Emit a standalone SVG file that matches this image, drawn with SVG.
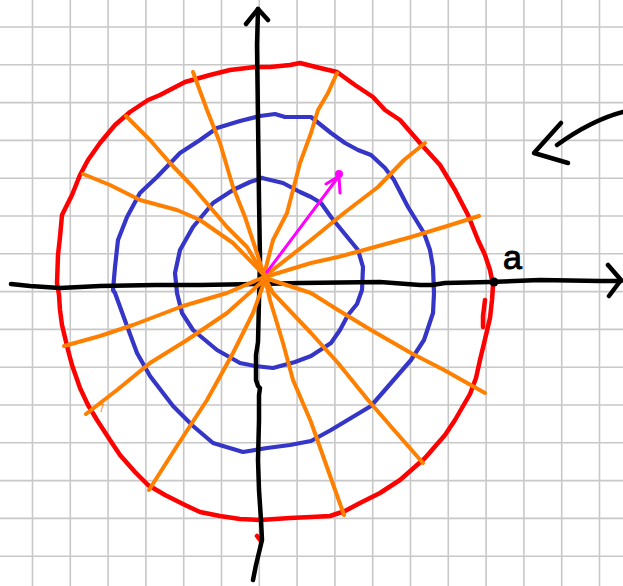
<svg xmlns="http://www.w3.org/2000/svg" width="623" height="586" viewBox="0 0 623 586">
<style>
.grid{stroke:#c8c8c8;stroke-width:1.6;fill:none}
.ink{fill:none;stroke-linecap:round;stroke-linejoin:round}
.axis{stroke:#000;stroke-width:4.5}
.red{stroke:#ff0000;stroke-width:4.5}
.blue{stroke:#3535c8;stroke-width:4.2}
.ray{stroke:#ff8000;stroke-width:4}
.mag{stroke:#ff00ff;stroke-width:3}
</style>
<rect width="623" height="586" fill="#fff"/>
<g id="grid">
<path class="grid" d="M32.5 0V586M70.3 0V586M108.1 0V586M145.9 0V586M183.7 0V586M221.5 0V586M259.3 0V586M297.1 0V586M334.9 0V586M372.7 0V586M410.5 0V586M448.3 0V586M486.1 0V586M523.9 0V586M561.7 0V586M599.5 0V586M0 27H623M0 64.8H623M0 102.6H623M0 140.4H623M0 178.2H623M0 216H623M0 253.8H623M0 291.6H623M0 329.4H623M0 367.2H623M0 405H623M0 442.8H623M0 480.6H623M0 518.4H623M0 556.2H623"/>
</g>
<g id="circle-red">
<polyline class="ink red" points="270,67 290,65 300,63 320,68 337,72 355,85 373,97 385,110 400,120 420,143 440,165 455,190 468,215 478,240 485,255 490,270 493,285 492,300 490,318 486,335 480,360 476,378 470,394 455,420 445,435 425,458 400,480 380,493 360,503 345,511 330,516 311,517 290,518 260,520 240,519 220,516 200,512 185,505 165,495 148,485 135,472 120,455 110,440 97,420 88,405 80,388 72,365 68,350 62,325 60,310 59,295 57,283 58,255 60,237 62,215 72,195 80,175 88,160 100,143 115,125 130,112 148,100 160,95 185,82 210,75 230,70 255,67 270,67"/>
<path class="ink red" d="M485 300L483 316L483 327M257 536L260 540" stroke-width="3"/>
</g>
<g id="circle-blue-outer">
<polyline class="ink blue" points="260,116 275,114 285,117 311,117 331,133 345,143 358,150 371,155 385,168 394,180 408,207 416,220 424,233 430,250 433,267 434,293 433,313 424,340 411,360 391,383 371,406 351,418 331,430 311,441 290,445 267,448 243,452 213,443 193,426 173,406 150,376 137,353 127,326 115,293 113,290 115,267 118,240 127,217 140,193 157,177 180,153 200,140 217,128 240,121 260,116"/>
</g>
<g id="circle-blue-inner">
<polyline class="ink blue" points="262,178 283,183 300,192 311,197 321,203 331,217 344,233 358,250 363,267 362,290 357,304 348,315 340,330 331,343 311,356 295,362 273,368 255,366 240,363 217,350 193,330 182,313 177,293 175,273 180,250 193,227 213,203 233,190 250,182 262,178"/>
</g>
<g id="axes">
<polyline class="ink axis" points="11,284 30,286 60,288 100,286 155,285 200,285 260,284 300,283 380,282 420,285 432,285 445,283 490,282 540,280 600,281 621,281"/>
<polyline class="ink axis" points="608,265 621,280 609,296"/>
<polyline class="ink axis" points="253,580 256,565 262,540 261,520 259,490 258,460 259,420 259,395 260,388 258,386 256,380 256,355 258,342 259,300 260,260 259,200 258,120 257,45 258,9"/>
<polyline class="ink axis" points="246,24 258,9 268,20"/>
<circle cx="494" cy="282" r="4.5" fill="#000"/>
</g>
<g id="rays">
<polyline class="ink ray" points="193,72 207,110 220,143 233,187 245,217 255,247 264,275"/>
<polyline class="ink ray" points="126,116 150,140 170,163 193,187 210,207 227,227 247,247 264,275"/>
<polyline class="ink ray" points="83,174 110,185 140,200 177,210 200,220 233,243 264,275"/>
<polyline class="ink ray" points="64,346 100,336 133,325 183,306 227,293 264,277"/>
<polyline class="ink ray" points="86,414 117,390 150,363 187,340 227,313 264,280"/>
<polyline class="ink ray" points="149,490 177,446 207,400 233,353 253,313 265,280"/>
<polyline class="ink ray" points="344,515 328,470 311,422 293,380 283,343 270,300 265,278"/>
<polyline class="ink ray" points="423,463 394,430 368,400 338,363 311,333 273,293 265,278"/>
<polyline class="ink ray" points="485,393 444,370 411,353 371,330 338,310 311,293 265,278"/>
<polyline class="ink ray" points="479,216 444,227 411,237 364,250 338,257 311,263 265,277"/>
<polyline class="ink ray" points="425,143 404,160 378,187 344,213 311,240 265,276"/>
<polyline class="ink ray" points="337,73 328,93 318,110 311,133 300,163 293,190 287,213 273,240 264,275"/>
<text x="99" y="412" font-family="Liberation Sans, sans-serif" font-size="10" fill="#ff8000">7</text>
</g>
<g id="vector">
<polyline class="ink mag" points="267,272 339,176"/>
<polyline class="ink mag" points="326,184 339,176 340,193"/>
<circle cx="339" cy="174" r="4" fill="#ff00ff"/>
</g>
<g id="pointer">
<path class="ink axis" d="M623 112C600 118 578 130 557 145" stroke-width="3.5"/>
<polyline class="ink axis" points="561,123 534,153 568,163" stroke-width="3.5"/>
</g>
<g id="label-a">
<text x="503" y="269" font-family="Liberation Sans, sans-serif" font-size="34" fill="#000" stroke="#000" stroke-width="1">a</text>
</g>
</svg>
